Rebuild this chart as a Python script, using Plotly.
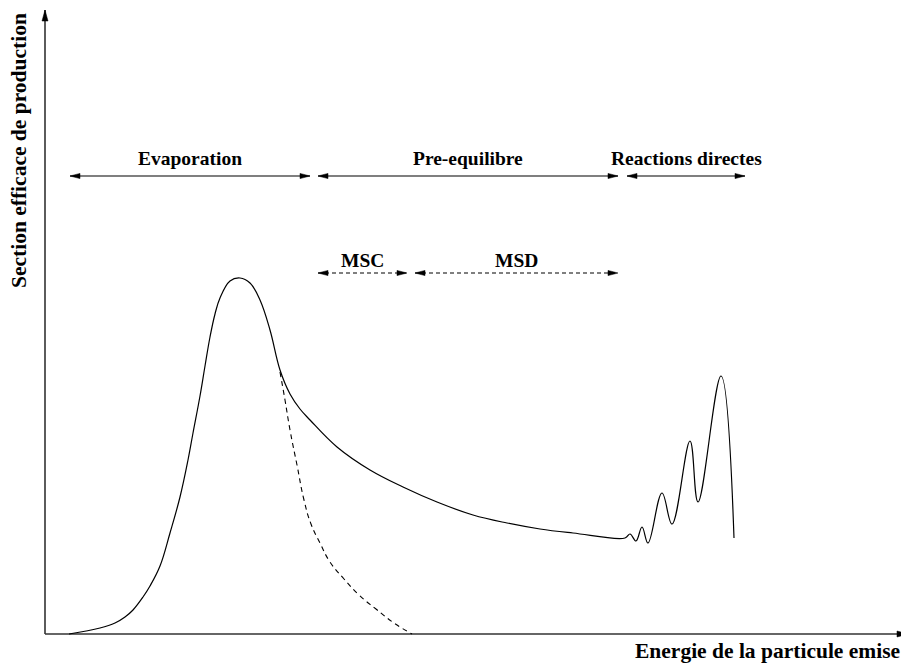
import plotly.graph_objects as go

# ---- data (energy in arbitrary units, cross-section in arbitrary units) ----
energy = [24, 55, 70, 80, 88, 98, 105, 115, 125, 135, 143, 148, 155, 160, 165, 170, 175,
          185, 195, 205, 215, 225, 235, 245, 255, 265, 292, 325, 358, 392, 428, 462,
          495, 528, 580, 585, 591, 597, 603, 617, 627, 645, 653, 676, 689]
section = [0, 6, 11, 17, 24, 37, 48, 68, 101, 137, 174, 201, 238, 268, 297, 320, 336,
           353, 356, 351, 334, 304, 264, 240, 225, 214, 187, 164, 147, 132, 119, 111,
           105, 101, 96, 100, 93, 107, 91, 141, 110, 193, 132, 258, 96]

energy_evap = [235, 240, 245, 252, 259, 266, 275, 285, 299, 314, 331, 349, 367]
section_evap = [262, 234, 204, 169, 134, 110, 91, 72, 55, 39, 25, 11, 0]

regions = ["Evaporation", "Pre-equilibre", "Reactions directes"]
region_start = [25, 273, 582]
region_end = [265, 573, 700]
region_level = 458

subregions = ["MSC", "MSD"]
sub_start = [273, 370]
sub_end = [362, 573]
sub_level = 361

x_axis_end = 863
y_axis_end = 624

x_title = "Energie de la particule emise"
y_title = "Section efficace de production"

FONT = "Liberation Serif"
fig = go.Figure()

# axes
fig.add_trace(go.Scatter(x=[0, x_axis_end], y=[0, 0], mode="lines",
                         line=dict(color="#333", width=1.6), hoverinfo="skip"))
fig.add_trace(go.Scatter(x=[0, 0], y=[0, y_axis_end], mode="lines",
                         line=dict(color="#333", width=1.6), hoverinfo="skip"))

# curves
fig.add_trace(go.Scatter(x=energy, y=section, mode="lines",
                         line=dict(color="black", width=1.2, shape="spline", smoothing=1.1),
                         hoverinfo="skip"))
fig.add_trace(go.Scatter(x=energy_evap, y=section_evap, mode="lines",
                         line=dict(color="black", width=1.1, shape="spline", smoothing=1.3,
                                   dash="5px,4px"),
                         hoverinfo="skip"))

# region arrows
for name, a, b in zip(regions, region_start, region_end):
    fig.add_trace(go.Scatter(x=[a, b], y=[region_level, region_level], mode="lines",
                             line=dict(color="black", width=1.1), hoverinfo="skip"))
    fig.add_annotation(x=(a + b) / 2, y=region_level + 18, text="<b>%s</b>" % name,
                       showarrow=False, font=dict(family=FONT, size=19.5, color="black"))
for name, a, b in zip(subregions, sub_start, sub_end):
    fig.add_trace(go.Scatter(x=[a, b], y=[sub_level, sub_level], mode="lines",
                             line=dict(color="black", width=1.1, dash="4px,3px"),
                             hoverinfo="skip"))
    fig.add_annotation(x=(a + b) / 2, y=sub_level + 13, text="<b>%s</b>" % name,
                       showarrow=False, font=dict(family=FONT, size=19.5, color="black"))

# arrow heads
def head(xt, yt, dx, dy, L=10, w=2.6):
    bx, by = xt - dx * L, yt - dy * L
    px, py = -dy * w, dx * w
    return [xt, bx + px, bx - px, xt, None], [yt, by + py, by - py, yt, None]

hx, hy = [], []
for a, b in list(zip(region_start, region_end)):
    for xs, ys in (head(a, region_level, -1, 0), head(b, region_level, 1, 0)):
        hx += xs; hy += ys
for a, b in list(zip(sub_start, sub_end)):
    for xs, ys in (head(a, sub_level, -1, 0), head(b, sub_level, 1, 0)):
        hx += xs; hy += ys
for xs, ys in (head(x_axis_end, 0, 1, 0, 11, 3), head(0, y_axis_end, 0, 1, 11, 3)):
    hx += xs; hy += ys
fig.add_trace(go.Scatter(x=hx, y=hy, mode="lines", fill="toself", fillcolor="black",
                         line=dict(color="black", width=0.5), hoverinfo="skip"))

fig.add_annotation(x=722, y=-17, text="<b>%s</b>" % x_title, showarrow=False,
                   font=dict(family=FONT, size=21.5, color="black"))
fig.add_annotation(x=-26, y=483, text="<b>%s</b>" % y_title, showarrow=False, textangle=-90,
                   font=dict(family=FONT, size=21.5, color="black"))

# page body has an 8px margin: shift the ranges so that the drawing lands in place
fig.update_layout(width=909, height=665, margin=dict(l=0, r=0, t=0, b=0),
                  showlegend=False, plot_bgcolor="white", paper_bgcolor="white",
                  xaxis=dict(visible=False, range=[-37, 872], fixedrange=True),
                  yaxis=dict(visible=False, range=[-39, 626], fixedrange=True))
fig.write_html("out.html")
